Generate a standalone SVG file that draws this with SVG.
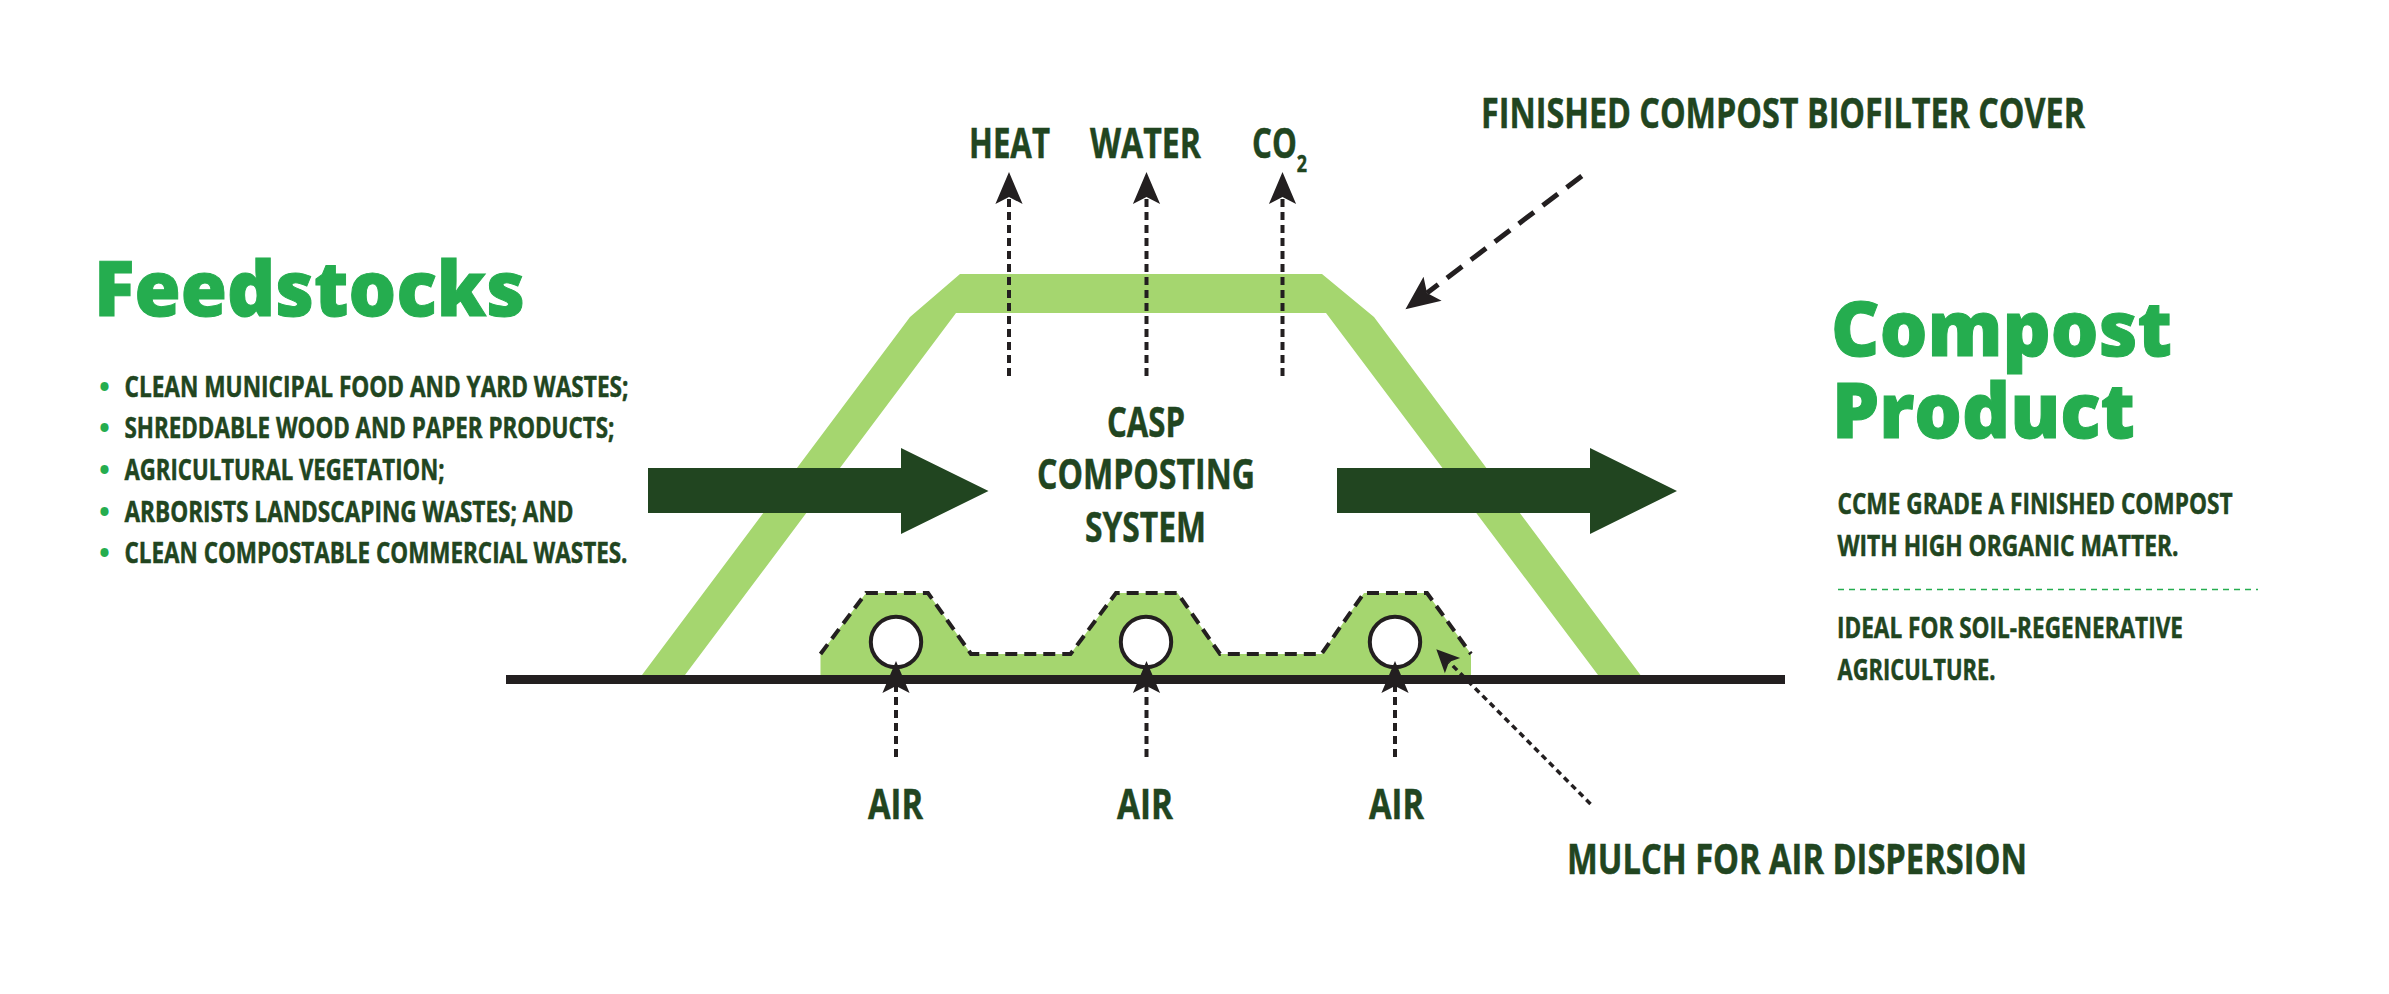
<svg xmlns="http://www.w3.org/2000/svg" width="2389" height="994" viewBox="0 0 2389 994">
<style>
text{font-family:"Open Sans","Noto Sans","Liberation Sans",sans-serif;font-weight:700;fill:#214520;stroke:#214520;stroke-width:.5px}
.h{font-size:76px;font-weight:800;fill:#25ad4f;stroke:#25ad4f;stroke-width:1px}
.l{font-size:42px}
.s{font-size:29px}
.b{font-size:29px;fill:#25ad4f;stroke:none}
.dash{fill:none;stroke:#231f20;stroke-width:4;stroke-dasharray:8 5}
.big{fill:#214520}
.mulch{fill:#a5d66f}
.pipe{fill:#fff;stroke:#231f20;stroke-width:4}
</style>
<defs>
<marker id="head" markerUnits="userSpaceOnUse" markerWidth="40" markerHeight="40" refX="7" refY="20" orient="auto" overflow="visible"><path d="M0,6.4 L32,20 L0,33.6 L7,20 Z" fill="#231f20"/></marker>
<marker id="head2" markerUnits="userSpaceOnUse" markerWidth="40" markerHeight="40" refX="7" refY="20" orient="auto" overflow="visible"><path d="M0,5 L34,20 L0,35 L7,20 Z" fill="#231f20"/></marker>
<marker id="head3" markerUnits="userSpaceOnUse" markerWidth="30" markerHeight="30" refX="5" refY="15" orient="auto" overflow="visible"><path d="M0,4.2 L23,15 L0,25.8 L5,15 Z" fill="#231f20"/></marker>
</defs>
<rect width="2389" height="994" fill="#fff"/>
<g id="cover">
<path d="M642,675 L910,317 L960,274 L1322,274 L1374,317 L1640.500,675 L1598,675 L1326,313 L956,313 L685,675 Z" fill="#a5d66f"/>
</g>
<g id="mulch">
<path class="mulch" d="M820.500,654 L866,593 L928,593 L971,654 L1070.500,654 L1116,593 L1177.500,593 L1220,654 L1321.500,654 L1364,593 L1427,593 L1471,654 L1471,677 L820.500,675 Z"/>
<path fill="none" stroke="#231f20" stroke-width="4" stroke-dasharray="12 7" d="M820.500,654 L866,593 L928,593 L971,654 L1070.500,654 L1116,593 L1177.500,593 L1220,654 L1321.500,654 L1364,593 L1427,593 L1471,654"/>
<circle class="pipe" cx="896" cy="642" r="25.200"/>
<circle class="pipe" cx="1146" cy="642" r="25.200"/>
<circle class="pipe" cx="1395" cy="642" r="25.200"/>
</g>
<g id="ground"><rect x="506" y="675" width="1279" height="9" fill="#231f20"/></g>
<g id="connectors">
<polygon class="big" points="648,468 901,468 901,448 988.500,491 901,534 901,513 648,513"/>
<polygon class="big" points="1337,468 1590,468 1590,448 1677,491 1590,534 1590,513 1337,513"/>
<line class="dash" x1="1009" y1="376" x2="1009" y2="197" marker-end="url(#head)"/>
<line class="dash" x1="1146.500" y1="376" x2="1146.500" y2="197" marker-end="url(#head)"/>
<line class="dash" x1="1282.500" y1="376" x2="1282.500" y2="197" marker-end="url(#head)"/>
<line class="dash" x1="896" y1="757" x2="896" y2="686" marker-end="url(#head)"/>
<line class="dash" x1="1146.500" y1="757" x2="1146.500" y2="686" marker-end="url(#head)"/>
<line class="dash" x1="1395" y1="757" x2="1395" y2="686" marker-end="url(#head)"/>
<line x1="1581.800" y1="176" x2="1427" y2="293" fill="none" stroke="#231f20" stroke-width="5" stroke-dasharray="19 11" marker-end="url(#head2)"/>
<line x1="1590.500" y1="804" x2="1449" y2="662" fill="none" stroke="#231f20" stroke-width="3.500" stroke-dasharray="6 4.500" marker-end="url(#head3)"/>
</g>
<g id="feedstocks">
<text class="h" x="94" y="316" textLength="431" lengthAdjust="spacingAndGlyphs">Feedstocks</text>
<text class="b" x="99" y="397">•</text><text class="s" x="124.500" y="397" textLength="504" lengthAdjust="spacingAndGlyphs">CLEAN MUNICIPAL FOOD AND YARD WASTES;</text>
<text class="b" x="99" y="438">•</text><text class="s" x="124.500" y="438" textLength="490" lengthAdjust="spacingAndGlyphs">SHREDDABLE WOOD AND PAPER PRODUCTS;</text>
<text class="b" x="99" y="480">•</text><text class="s" x="124.500" y="480" textLength="320" lengthAdjust="spacingAndGlyphs">AGRICULTURAL VEGETATION;</text>
<text class="b" x="99" y="522">•</text><text class="s" x="124.500" y="522" textLength="449" lengthAdjust="spacingAndGlyphs">ARBORISTS LANDSCAPING WASTES; AND</text>
<text class="b" x="99" y="563">•</text><text class="s" x="124.500" y="563" textLength="503" lengthAdjust="spacingAndGlyphs">CLEAN COMPOSTABLE COMMERCIAL WASTES.</text>
</g>
<g id="heat"><text class="l" x="969" y="158" textLength="81" lengthAdjust="spacingAndGlyphs">HEAT</text></g>
<g id="water"><text class="l" x="1090" y="158" textLength="111" lengthAdjust="spacingAndGlyphs">WATER</text></g>
<g id="co2"><text class="l" x="1252" y="158" textLength="55" lengthAdjust="spacingAndGlyphs">CO<tspan font-size="24" dy="14">2</tspan></text></g>
<g id="biofilter-label"><text class="l" x="1481" y="128" textLength="604" lengthAdjust="spacingAndGlyphs">FINISHED COMPOST BIOFILTER COVER</text></g>
<g id="casp">
<text class="l" x="1107" y="437" textLength="78" lengthAdjust="spacingAndGlyphs">CASP</text>
<text class="l" x="1037" y="489" textLength="218" lengthAdjust="spacingAndGlyphs">COMPOSTING</text>
<text class="l" x="1085" y="542" textLength="121" lengthAdjust="spacingAndGlyphs">SYSTEM</text>
</g>
<g id="air-1"><text class="l" x="868" y="819" textLength="55" lengthAdjust="spacingAndGlyphs">AIR</text></g>
<g id="air-2"><text class="l" x="1117" y="819" textLength="56" lengthAdjust="spacingAndGlyphs">AIR</text></g>
<g id="air-3"><text class="l" x="1369" y="819" textLength="55" lengthAdjust="spacingAndGlyphs">AIR</text></g>
<g id="mulch-label"><text class="l" x="1567" y="874" textLength="460" lengthAdjust="spacingAndGlyphs">MULCH FOR AIR DISPERSION</text></g>
<g id="compost-product">
<text class="h" x="1831" y="356" textLength="341" lengthAdjust="spacingAndGlyphs">Compost</text>
<text class="h" x="1832" y="438" textLength="303" lengthAdjust="spacingAndGlyphs">Product</text>
<text class="s" x="1837.500" y="514" textLength="395" lengthAdjust="spacingAndGlyphs">CCME GRADE A FINISHED COMPOST</text>
<text class="s" x="1837.500" y="556" textLength="341" lengthAdjust="spacingAndGlyphs">WITH HIGH ORGANIC MATTER.</text>
<line x1="1838" y1="589.500" x2="2258" y2="589.500" stroke="#25ad4f" stroke-width="1.500" stroke-dasharray="6 5"/>
<text class="s" x="1837" y="638" textLength="346" lengthAdjust="spacingAndGlyphs">IDEAL FOR SOIL-REGENERATIVE</text>
<text class="s" x="1837.500" y="680" textLength="158" lengthAdjust="spacingAndGlyphs">AGRICULTURE.</text>
</g>
</svg>
